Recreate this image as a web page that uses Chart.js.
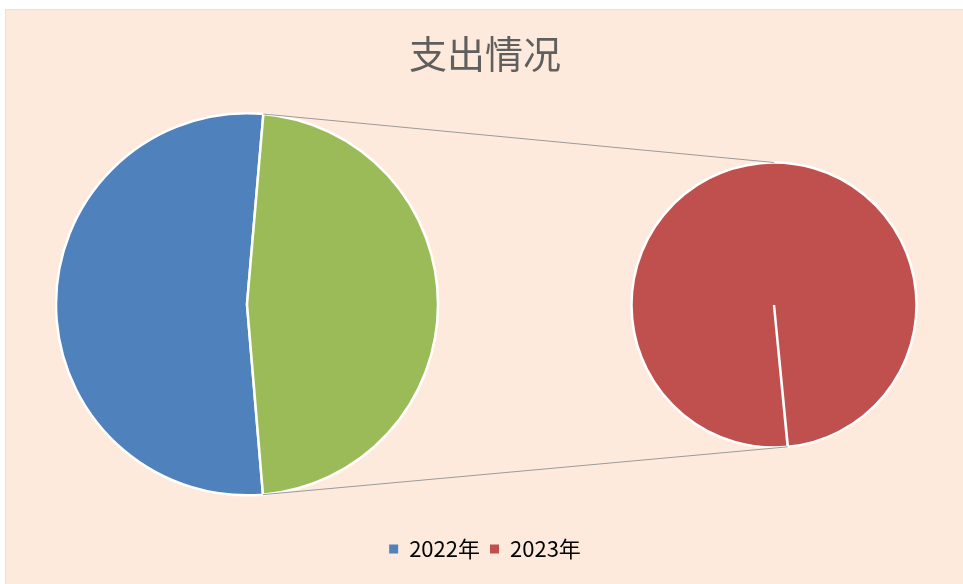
<!DOCTYPE html>
<html>
<head>
<meta charset="utf-8">
<script src="https://cdn.jsdelivr.net/npm/chart.js@4"></script>
<style>
  html, body { margin: 0; padding: 0; background: #ffffff; }
  #wrap {
    position: absolute; left: 5px; top: 9px; width: 958px; height: 575px;
    background: #fdeadc; border-left: 1px solid #efe0d4; border-top: 1px solid #efe0d4;
  }
  #wrap canvas { position: absolute; left: 0; top: 0; }
</style>
</head>
<body>
<div id="wrap">
  <canvas id="mainPie" width="958" height="575"></canvas>
  <canvas id="subPie" width="958" height="575"></canvas>
</div>
<script>
// 数据
const categories = ['2022年', '2023年'];
const values = [52.7, 47.3];
const otherLabel = '其他';
const colors = ['#4f81bd', '#c0504d'];
const otherColor = '#9bbb59';

const fontFamily = '"Noto Sans CJK SC", "Microsoft YaHei", sans-serif';

// 右侧留白，让主饼图靠左
const rightSpacer = {
    id: 'rightSpacer',
    beforeInit(chart) {
        Chart.layouts.addBox(chart, {
            position: 'right',
            fullSize: false,
            weight: 0,
            options: {},
            width: 0,
            height: 0,
            isHorizontal() { return false; },
            update(maxWidth, maxHeight) {
                this.width = 476;
                this.height = maxHeight;
            },
            draw() {}
        });
    }
};

const mainChart = new Chart(document.getElementById('mainPie').getContext('2d'), {
    type: 'pie',
    data: {
        labels: [categories[0], otherLabel],
        datasets: [{
            data: values,
            backgroundColor: [colors[0], otherColor],
            borderColor: '#ffffff',
            borderWidth: 2.5,
            hoverOffset: 0,
            radius: 191
        }]
    },
    plugins: [rightSpacer],
    options: {
        responsive: false,
        animation: false,
        rotation: 175.2,
        layout: { padding: { top: 0, bottom: 15, left: 0, right: 0 } },
        plugins: {
            title: {
                display: true,
                text: '支出情况',
                color: '#5f5f5f',
                font: { family: fontFamily, size: 38, weight: 'normal' },
                padding: { top: 21, bottom: 4 }
            },
            legend: {
                position: 'bottom',
                labels: {
                    boxWidth: 9,
                    boxHeight: 9,
                    color: '#595959',
                    font: { family: fontFamily, size: 22 },
                    generateLabels: function() {
                        return categories.map((c, i) => ({
                            text: c,
                            fillStyle: colors[i],
                            strokeStyle: colors[i],
                            lineWidth: 0,
                            hidden: false,
                            index: i
                        }));
                    }
                }
            },
            tooltip: { enabled: false }
        }
    }
});

// 连接线
const connectors = {
    id: 'connectors',
    afterDraw(chart) {
        const big = mainChart.getDatasetMeta(0).data[1];
        const small = chart.getDatasetMeta(0).data[0];
        if (!big || !small) return;
        const b = big.getProps(['x', 'y', 'outerRadius', 'startAngle', 'endAngle'], true);
        const s = small.getProps(['x', 'y', 'outerRadius', 'startAngle'], true);
        const ctx = chart.ctx;
        ctx.save();
        ctx.strokeStyle = '#9a9a9a';
        ctx.lineWidth = 1;
        ctx.beginPath();
        ctx.moveTo(b.x + Math.cos(b.startAngle) * b.outerRadius, b.y + Math.sin(b.startAngle) * b.outerRadius);
        ctx.lineTo(s.x, s.y - s.outerRadius);
        ctx.moveTo(b.x + Math.cos(b.endAngle) * b.outerRadius, b.y + Math.sin(b.endAngle) * b.outerRadius);
        ctx.lineTo(s.x + Math.cos(s.startAngle) * s.outerRadius, s.y + Math.sin(s.startAngle) * s.outerRadius);
        ctx.stroke();
        ctx.restore();
    }
};

new Chart(document.getElementById('subPie').getContext('2d'), {
    type: 'pie',
    data: {
        labels: [categories[1]],
        datasets: [{
            data: [values[1]],
            backgroundColor: [colors[1]],
            borderColor: '#ffffff',
            borderWidth: 2.5,
            hoverOffset: 0,
            radius: 142.5
        }]
    },
    plugins: [connectors],
    options: {
        responsive: false,
        animation: false,
        rotation: 174.5,
        circumference: 359.9,
        layout: { padding: { top: 15, bottom: 0, left: 578, right: 0 } },
        plugins: {
            legend: { display: false },
            title: { display: false },
            tooltip: { enabled: false }
        }
    }
});
</script>
</body>
</html>
